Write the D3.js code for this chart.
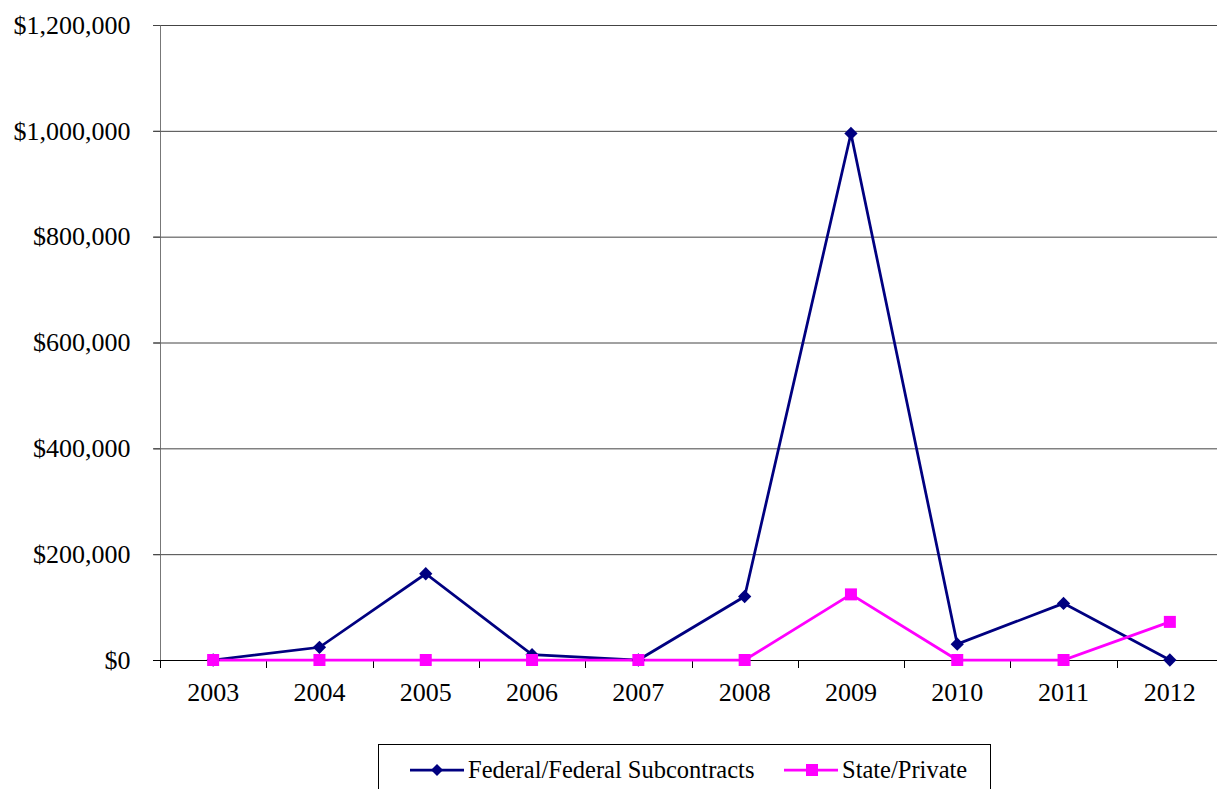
<!DOCTYPE html>
<html><head><meta charset="utf-8">
<script src="https://cdn.jsdelivr.net/npm/d3@7"></script>
<style>body{margin:0;background:#fff;} svg{display:block;}</style>
</head><body>
<svg id="c" width="1217" height="789"></svg>
<script>
const years = ["2003","2004","2005","2006","2007","2008","2009","2010","2011","2012"];
const federal = [0, 24000, 163000, 10000, 0, 120000, 995000, 30000, 107000, 0];
const statePrivate = [0, 0, 0, 0, 0, 0, 124000, 0, 0, 72000];
const yTicks = [0, 200000, 400000, 600000, 800000, 1000000, 1200000];
const seriesNames = ["Federal/Federal Subcontracts", "State/Private"];

const svg = d3.select("#c");
const font = "'Liberation Serif', 'Times New Roman', serif";
const x = d3.scaleBand().domain(years).range([160, 1223]);
const y = d3.scaleLinear().domain([0, 1200000]).range([660, 25]);
const fmt = v => "$" + d3.format(",")(v);

// gridlines
svg.append("g").selectAll("line").data(yTicks.filter(d => d > 0)).join("line")
  .attr("x1", 153).attr("x2", 1217)
  .attr("y1", d => y(d) + 0.5).attr("y2", d => y(d) + 0.5)
  .attr("stroke", "#444").attr("stroke-width", 1);

// y axis
const ya = svg.append("g").attr("transform", "translate(160.5,0)")
  .call(d3.axisLeft(y).tickValues(yTicks).tickFormat(fmt).tickSize(7).tickPadding(23));
ya.select(".domain").attr("stroke", "#777").attr("d", "M0," + y(1200000) + "V" + y(0));
ya.selectAll(".tick line").attr("stroke", "#444");
ya.selectAll("text").attr("font-family", font).attr("font-size", 26).attr("fill", "#000");

// x axis
const xa = svg.append("g").attr("transform", "translate(0,660.5)")
  .call(d3.axisBottom(x).tickSize(0).tickPadding(22));
xa.select(".domain").remove();
xa.selectAll("text").attr("font-family", font).attr("font-size", 26).attr("fill", "#000");
svg.append("line").attr("x1", 153).attr("x2", 1217).attr("y1", 660.5).attr("y2", 660.5).attr("stroke", "#000");
const bounds = d3.range(years.length + 1).map(i => 160 + i * x.step());
svg.append("g").selectAll("line").data(bounds.filter(b => b < 1217)).join("line")
  .attr("x1", d => Math.round(d) + 0.5).attr("x2", d => Math.round(d) + 0.5)
  .attr("y1", 660).attr("y2", 668).attr("stroke", "#000");

const cx = d => x(d) + x.bandwidth() / 2;
const line = d3.line().x((d, i) => cx(years[i])).y(d => y(d));

svg.append("path").datum(federal).attr("d", line).attr("fill", "none")
  .attr("stroke", "#000080").attr("stroke-width", 2.75);
svg.append("path").datum(statePrivate).attr("d", line).attr("fill", "none")
  .attr("stroke", "#FF00FF").attr("stroke-width", 2.75);

svg.append("g").selectAll("path").data(federal).join("path")
  .attr("d", d3.symbol().type(d3.symbolSquare).size(88))
  .attr("transform", (d, i) => `translate(${cx(years[i])},${y(d)}) rotate(45)`)
  .attr("fill", "#000080");
svg.append("g").selectAll("rect").data(statePrivate).join("rect")
  .attr("x", (d, i) => cx(years[i]) - 6).attr("y", d => y(d) - 6)
  .attr("width", 12).attr("height", 12).attr("fill", "#FF00FF");

// legend
const lg = svg.append("g");
lg.append("rect").attr("x", 378.5).attr("y", 744.5).attr("width", 612).attr("height", 60)
  .attr("fill", "#fff").attr("stroke", "#000");
const items = [{name: seriesNames[0], color: "#000080", x0: 410, sym: "d"},
               {name: seriesNames[1], color: "#FF00FF", x0: 784, sym: "s"}];
items.forEach(it => {
  lg.append("line").attr("x1", it.x0).attr("x2", it.x0 + 54).attr("y1", 770).attr("y2", 770)
    .attr("stroke", it.color).attr("stroke-width", 2.75);
  if (it.sym === "d") {
    lg.append("path").attr("d", d3.symbol().type(d3.symbolSquare).size(72))
      .attr("transform", `translate(${it.x0 + 27},770) rotate(45)`).attr("fill", it.color);
  } else {
    lg.append("rect").attr("x", it.x0 + 22).attr("y", 764).attr("width", 12).attr("height", 12).attr("fill", it.color);
  }
  lg.append("text").attr("x", it.x0 + 58).attr("y", 778).text(it.name)
    .attr("font-family", font).attr("font-size", 24.5).attr("fill", "#000");
});
</script>
</body></html>
